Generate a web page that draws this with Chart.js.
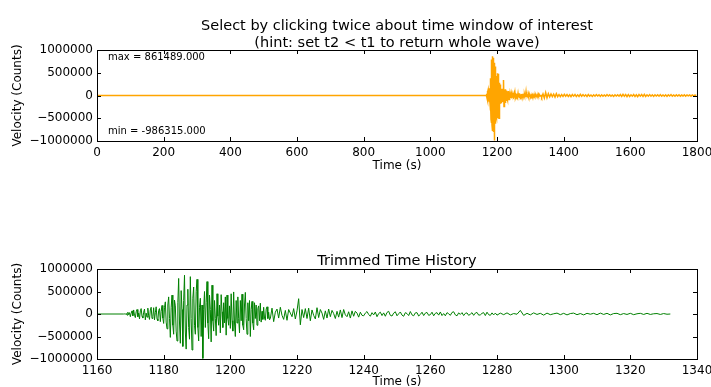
<!DOCTYPE html>
<html>
<head>
<meta charset="utf-8">
<script src="https://cdn.jsdelivr.net/npm/chart.js@4/dist/chart.umd.min.js"></script>
<style>
html,body{margin:0;padding:0;background:#fff;overflow:hidden;width:711px;height:387px;}
#c1{position:absolute;left:0;top:0;}
#c2{position:absolute;left:0;top:240px;}
</style>
</head>
<body>
<canvas id="c1" width="711" height="200"></canvas>
<canvas id="c2" width="711" height="160"></canvas>
<script>
// ---- Data (velocity counts) ----
const fullXTicks = [0, 200, 400, 600, 800, 1000, 1200, 1400, 1600, 1800];
const trimXTicks = [1160, 1180, 1200, 1220, 1240, 1260, 1280, 1300, 1320, 1340];
const yTicks = [-1000000, -500000, 0, 500000, 1000000];

const quietStart = 0;          // pre-event quiet record begins (s)
const trimStart = 1160;        // trimmed window begins (s)

// strong motion, 0.25 s samples from 1168 s to 1212 s
const strongStart = 1168;
const strongStep = 0.25;
const strongVel = [
 0, 3000, -8000, 15000,
 -25000, 40000, -15000, 30000,
 -60000, 20000, 70000, -40000,
 90000, -30000, -80000, 50000,
 100000, -60000, 20000, -110000,
 70000, 120000, -50000, -90000,
 40000, 110000, -130000, 20000,
 -70000, 130000, -40000, -120000,
 90000, 150000, -100000, -60000,
 140000, -130000, 30000, 160000,
 -110000, -150000, 80000, 120000,
 -170000, 60000, 190000, -90000,
 -210000, 150000, 270000, -180000,
 -330000, 200000, 380000, -100000,
 -520000, 150000, 420000, -250000,
 -450000, 310000, 180000, -380000,
 -600000, 250000, 790000, -200000,
 -650000, 520000, 100000, -720000,
 300000, 861489, -400000, -780000,
 200000, 550000, -300000, -560000,
 830000, -100000, -800000, 350000,
 600000, -250000, -450000, 500000,
 770000, -300000, -600000, 150000,
 350000, -500000, 200000, -986315,
 100000, 500000, -300000, 250000,
 720000, -200000, -550000, 420000,
 100000, -620000, 640000, -150000,
 -380000, 300000, -100000, -480000,
 450000, -50000, -250000, 200000,
 -420000, 430000, 50000, -300000,
 250000, -200000, 380000, -470000,
 420000, -100000, -250000, 180000,
 -320000, 450000, -150000, -380000,
 490000, -200000, -500000, 300000,
 -200000, 380000, -100000, -420000,
 300000, -150000, 440000, -250000,
 -350000, 200000, 480000, -100000,
 -450000, 250000, -150000, 300000,
 -500000, 100000, 280000, -200000,
 -350000, 250000, -100000, 200000,
 -250000, 120000, 180000, -150000,
 240000, -180000, 60000, -120000,
 150000, -90000, -140000, 110000,
 160000, -100000, 40000, -130000
];

// later phase, 0.5 s samples from 1212 s to 1240 s
const lateStart = 1212;
const lateStep = 0.5;
const lateVel = [
 -100000, 130000, -170000, 40000, 110000, -90000, 150000, -30000,
 -120000, 80000, -140000, 100000, 20000, -60000, 120000, -110000,
 70000, 340000, -240000, 100000, -80000, 120000, -100000, 130000,
 -150000, 90000, -30000, -110000, 140000, -80000, 100000, 20000,
 -120000, 70000, -90000, 110000, -60000, 80000, 10000, -100000,
 60000, -70000, 90000, -80000, 100000, -20000, -60000, 50000,
 -90000, 70000, -50000, 60000, 20000, -70000, 40000, -30000
];

// coda, 0.5 s samples from 1240 s to 1280 s
const codaStart = 1240;
const codaStep = 0.5;
const codaVel = [
 -40000, 20000, 55000, -10000, -50000, 30000, -20000, 45000, -60000, 10000,
 40000, -35000, 25000, -50000, 35000, 60000, -30000, -45000, 20000, 50000,
 -40000, 5000, 45000, -25000, -50000, 30000, 10000, -35000, 55000, -20000,
 -40000, 25000, 30000, -45000, -10000, 40000, -35000, 20000, 35000, -30000,
 -15000, 40000, -40000, 15000, 30000, -25000, 45000, -35000, 10000, -40000,
 30000, 5000, -30000, 35000, 50000, -20000, -40000, 25000, -10000, 30000,
 -35000, 15000, 25000, -30000, -5000, 30000, -30000, 20000, 35000, -25000,
 -20000, 15000, 30000, -35000, 40000, -15000, -30000, 25000, -20000, 20000
];

// late coda, 1 s samples from 1280 s to 1332 s
const lateCodaStart = 1280;
const lateCodaStep = 1;
const lateCodaVel = [
 -25000, 20000, -15000, 25000, -20000, 10000, -5000, 80000, -30000, 15000,
 -20000, 25000, -10000, 15000, -25000, 20000, -15000, 5000, 20000, -15000,
 15000, -20000, 10000, 20000, -15000, 10000, -20000, 15000, -5000, 15000,
 -15000, 20000, -10000, 15000, -20000, 10000, 15000, -15000, 10000, -10000,
 15000, -15000, 5000, 15000, -10000, 15000, -10000, 5000, 10000, -10000,
 10000, -5000, 0
];

// late tail (full record only), 4 s samples from 1334 s
const tailStart = 1334;
const tailStep = 4;
const tailVel = [
 -40000, 35000, -55000, 65000, -50000, 40000, -30000, 35000, -25000, 30000,
 -35000, 40000, -25000, 20000, -25000, 20000, -20000, 25000, -15000, 20000,
 -20000, 15000, -25000, 20000, -15000, 20000, -20000, 15000, -20000, 25000,
 -15000, 20000, -15000, 15000, -20000, 20000, -15000, 10000, -20000, 15000,
 -15000, 20000, -10000, 15000, -20000, 15000, -15000, 10000, -15000, 20000,
 -10000, 15000, -15000, 10000, -20000, 15000, -10000, 15000, -15000, 20000,
 -20000, 25000, -15000, 20000, -25000, 20000, -20000, 15000, -15000, 20000,
 -20000, 15000, -25000, 20000, -15000, 20000, -20000, 25000, -20000, 15000,
 -15000, 20000, -15000, 15000, -20000, 15000, -10000, 15000, -15000, 20000,
 -15000, 10000, -15000, 15000, -20000, 15000, -10000, 20000, -15000, 10000,
 -15000, 15000, -10000, 15000, -15000, 10000, -10000, 15000, -15000, 10000,
 -10000, 10000, -15000, 10000, -10000, 10000, 0
];

const maxLabel = 'max = 861489.000';
const minLabel = 'min = -986315.000';
const topTitle = ['Select by clicking twice about time window of interest', '(hint: set t2 < t1 to return whole wave)'];
const bottomTitle = 'Trimmed Time History';

// ---- build point lists ----
function seg(start, step, vals) { return vals.map((v, i) => ({x: start + i * step, y: v})); }
const eventPts = [].concat(
  seg(strongStart, strongStep, strongVel),
  seg(lateStart, lateStep, lateVel),
  seg(codaStart, codaStep, codaVel),
  seg(lateCodaStart, lateCodaStep, lateCodaVel)
);
const fullData = [{x: quietStart, y: 0}].concat(eventPts, seg(tailStart, tailStep, tailVel));
const trimData = [{x: trimStart, y: 0}].concat(eventPts);

const FONT = 'DejaVu Sans';
const minus = s => String(s).replace('-', '\u2212');

const frame = {
  id: 'frame',
  afterDraw(chart, args, opts) {
    const ctx = chart.ctx, a = chart.chartArea;
    ctx.save();
    ctx.strokeStyle = '#000';
    ctx.lineWidth = 1;
    ctx.strokeRect(Math.round(a.left) + 0.5, Math.round(a.top) + 0.5, Math.round(a.right - a.left), Math.round(a.bottom - a.top));
    ctx.beginPath();
    const xs = chart.scales.x, ys = chart.scales.y;
    xs.ticks.forEach(t => {
      const p = Math.round(xs.getPixelForValue(t.value)) + 0.5;
      ctx.moveTo(p, a.bottom); ctx.lineTo(p, a.bottom - 4);
      ctx.moveTo(p, a.top); ctx.lineTo(p, a.top + 4);
    });
    ys.ticks.forEach(t => {
      const p = Math.round(ys.getPixelForValue(t.value)) + 0.5;
      ctx.moveTo(a.left, p); ctx.lineTo(a.left + 4, p);
      ctx.moveTo(a.right, p); ctx.lineTo(a.right - 4, p);
    });
    ctx.stroke();
    ctx.fillStyle = '#000';
    ctx.textAlign = 'center';
    ctx.textBaseline = 'middle';
    ctx.font = '14.5px "' + FONT + '"';
    const cx = (a.left + a.right) / 2;
    (opts.titles || []).forEach((t, i, arr) => {
      ctx.fillText(t, cx, a.top - opts.titleGap - (arr.length - 1 - i) * 17);
    });
    if (opts.notes) {
      ctx.font = '10px "' + FONT + '"';
      ctx.textAlign = 'left';
      ctx.fillText(opts.notes[0], a.left + 11, a.top + 7);
      ctx.fillText(opts.notes[1], a.left + 11, a.bottom - 10);
    }
    ctx.restore();
  }
};

function makeChart(id, data, color, lw, xmin, xmax, padTop, canvasH, plotBottom, xTitlePad, titles, titleGap, notes) {
  return new Chart(document.getElementById(id), {
    type: 'line',
    data: { datasets: [{ data: data, borderColor: color, borderWidth: lw, pointRadius: 0, tension: 0, fill: false }] },
    options: {
      responsive: false, animation: false, parsing: false, normalized: true,
      layout: { padding: { left: 0, right: 14, top: padTop, bottom: 0 } },
      plugins: { legend: { display: false }, tooltip: { enabled: false }, frame: { titles: titles, titleGap: titleGap, notes: notes } },
      scales: {
        x: {
          type: 'linear', min: xmin, max: xmax,
          afterBuildTicks(s) { s.ticks = (xmin === 0 ? fullXTicks : trimXTicks).map(v => ({value: v})); },
          afterFit(s) { s.height = canvasH - plotBottom; s.paddingLeft = 0; s.paddingRight = 0; },
          grid: { drawOnChartArea: false, drawTicks: false },
          border: { display: false },
          ticks: { color: '#000', padding: 5, maxRotation: 0, autoSkip: false, font: { family: FONT, size: 12 }, callback: v => minus(v) },
          title: { display: true, text: 'Time (s)', color: '#000', font: { family: FONT, size: 12 }, padding: { top: 0, bottom: xTitlePad } }
        },
        y: {
          min: -1000000, max: 1000000,
          afterBuildTicks(s) { s.ticks = yTicks.map(v => ({value: v})); },
          afterFit(s) { s.width = 97; s.paddingTop = 0; s.paddingBottom = 0; },
          grid: { drawOnChartArea: false, drawTicks: false },
          border: { display: false },
          ticks: { color: '#000', padding: 4, autoSkip: false, font: { family: FONT, size: 12 }, callback: v => minus(v) },
          title: { display: true, text: 'Velocity (Counts)', color: '#000', font: { family: FONT, size: 12 }, padding: { top: 11, bottom: 0 } }
        }
      }
    },
    plugins: [frame]
  });
}

makeChart('c1', fullData, '#FFA500', 1.5, 0, 1800, 50, 200, 141, 27, topTitle, 7, [maxLabel, minLabel]);
makeChart('c2', trimData, '#008000', 1, 1160, 1340, 29, 160, 119, 11, [bottomTitle], 8, null);
</script>
</body>
</html>
